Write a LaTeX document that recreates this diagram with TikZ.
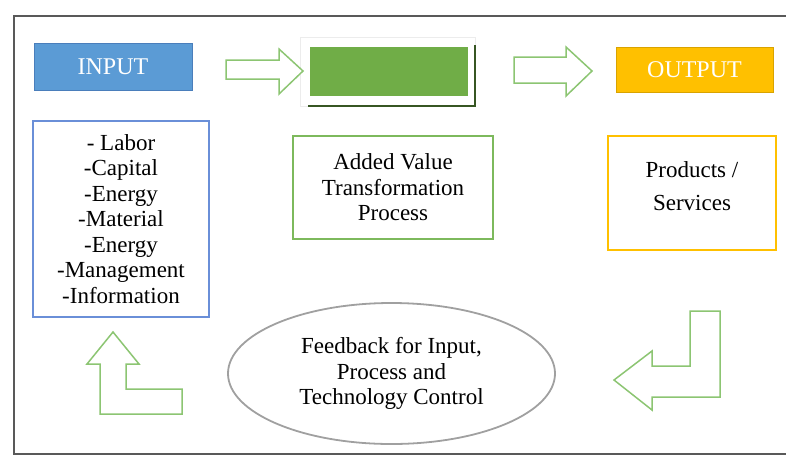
\documentclass[tikz,border=0pt]{standalone}
\usepackage{fontspec}
\setmainfont{Liberation Serif}
\usepackage{xcolor}
\usetikzlibrary{shapes.geometric}

\definecolor{inblue}{HTML}{5B9BD5}
\definecolor{inblueline}{HTML}{4A7EBB}
\definecolor{listblue}{HTML}{6A8FD8}
\definecolor{procgreen}{HTML}{70AD47}
\definecolor{procdark}{HTML}{375623}
\definecolor{boxgreen}{HTML}{7DB95C}
\definecolor{arrowgreen}{HTML}{8CC572}
\definecolor{outyellow}{HTML}{FFC000}
\definecolor{outline}{HTML}{D9A300}
\definecolor{ovalgray}{HTML}{A0A0A0}
\definecolor{framegray}{HTML}{595959}

\begin{document}
\begin{tikzpicture}[x=1pt,y=-1pt,
        box/.style={draw, line width=1.2pt, align=center, inner sep=0pt,
            font=\fontsize{23}{25.5}\selectfont},
        headbox/.style={box, line width=0.8pt, text=white,
            font=\fontsize{24}{28}\selectfont},
        blockarrow/.style={draw=arrowgreen, line width=1.5pt, fill=white, line join=miter}]
        \useasboundingbox (0,0) rectangle (786,456);

        %FRAME
        \draw[framegray, line width=2.5pt] (790,16) -- (14,16) -- (14,454) -- (790,454);

        %TOP ROW
        \node[headbox, fill=inblue, draw=inblueline, minimum width=158pt, minimum height=47pt] (input) at (113,66.5) {INPUT};
        \draw[gray!15, line width=0.8pt] (300,37) rectangle (475,106);
        \node[headbox, fill=procgreen, draw=procgreen, minimum width=157pt, minimum height=48pt] (process) at (388.5,71) {};
        \draw[procdark, line width=2.5pt] (308,106) -- (475,106) -- (475,45);
        \node[headbox, fill=outyellow, draw=outline, minimum width=157pt, minimum height=45pt] (output) at (694.5,69.5) {OUTPUT};

        %ARROWS RIGHT
        \draw[blockarrow] (226,60) -- (279,60) -- (279,49) -- (303,71) -- (279,94) -- (279,79) -- (226,79) -- cycle;
        \draw[blockarrow] (514,57) -- (566,57) -- (566,47) -- (592,71) -- (566,96) -- (566,83) -- (514,83) -- cycle;

        %MIDDLE ROW
        \node[box, draw=listblue, minimum width=176pt, minimum height=196pt] (factors) at (121,219)
            {- Labor\\-Capital\\-Energy\\-Material\\-Energy\\-Management\\-Information};
        \node[box, draw=boxgreen, minimum width=200pt, minimum height=103pt] (transform) at (393,187.5)
            {Added Value\\Transformation\\Process};
        \node[box, draw=outyellow, minimum width=168pt, minimum height=114pt] (products) at (692,193) {};
        \node[box, draw=none] (prodtext) at (692,186) {Products /\\[7pt]Services};

        %FEEDBACK
        \node[box, ellipse, draw=ovalgray, line width=1.8pt, minimum width=327pt, minimum height=141pt] (feedback) at (391.5,373.5)
            {Feedback for Input,\\Process and\\Technology Control};

        %ARROWS BACK
        \draw[blockarrow] (614,380) -- (652,351) -- (652,366) -- (690,366) -- (690,311) -- (720,311)
            -- (720,397) -- (652,397) -- (652,410) -- cycle;
        \draw[blockarrow] (113,332) -- (139,364) -- (126,364) -- (126,389) -- (182,389) -- (182,414)
            -- (100,414) -- (100,364) -- (87,364) -- cycle;
    \end{tikzpicture}
\end{document}
